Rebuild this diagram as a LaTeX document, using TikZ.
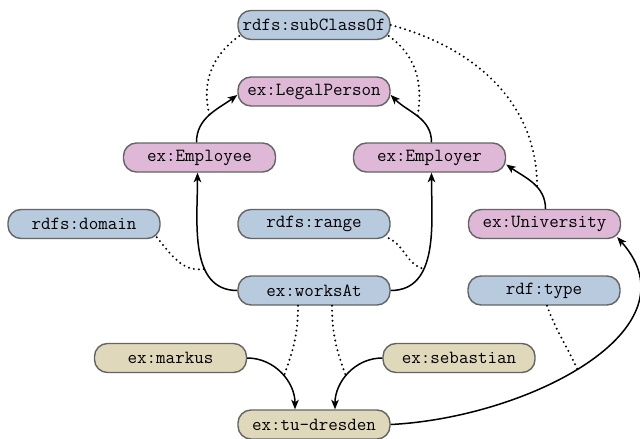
\documentclass[tikz,border=0pt]{standalone}
\usepackage{fontspec}
\usetikzlibrary{arrows.meta}
\definecolor{nblue}{RGB}{184,202,222}
\definecolor{npink}{RGB}{222,184,214}
\definecolor{ntan}{RGB}{224,216,186}
\definecolor{nborder}{RGB}{100,100,100}
\tikzset{
 res/.style={draw=nborder, line width=1.4pt, rounded corners=13pt, minimum width=152pt, minimum height=29pt, inner sep=0pt, font=\ttfamily\fontsize{18.5pt}{20pt}\selectfont},
 cls/.style={res, fill=npink},
 prop/.style={res, fill=nblue},
 inst/.style={res, fill=ntan},
 arr/.style={line width=1.5pt, -{Stealth[length=9.5pt,width=7.5pt,inset=2.5pt]}},
 dots/.style={line width=2.2pt, line cap=round, dash pattern=on 0pt off 5pt},
}
\begin{document}
\begin{tikzpicture}[x=1pt,y=1pt]
\useasboundingbox (0,0) rectangle (640,-439);
% nodes
\node[prop] (sub) at (314,-25) {rdfs:subClassOf};
\node[cls] (lp) at (314,-91.5) {ex:LegalPerson};
\node[cls] (emp) at (199.5,-157.5) {ex:Employee};
\node[cls] (er) at (429.5,-157.5) {ex:Employer};
\node[prop] (dom) at (84,-224) {rdfs:domain};
\node[prop] (rng) at (314,-224) {rdfs:range};
\node[cls] (univ) at (544.5,-224) {ex:University};
\node[prop] (wa) at (314,-290.5) {ex:worksAt};
\node[prop] (type) at (544,-290.5) {rdf:type};
\node[inst] (markus) at (170.5,-358) {ex:markus};
\node[inst] (seb) at (459,-358) {ex:sebastian};
\node[inst] (tu) at (314,-424.5) {ex:tu-dresden};
% arrows
\draw[arr] ([xshift=-3pt]emp.north) to[out=90,in=-144] coordinate[pos=0.5] (c1) ([yshift=-3.5pt]lp.west);
\draw[arr] ([xshift=2pt]er.north) to[out=90,in=-45] coordinate[pos=0.5] (c2) ([yshift=-3.5pt]lp.east);
\draw[arr] ([xshift=1pt]univ.north) to[out=90,in=-35] coordinate[pos=0.4] (c3) ([yshift=-7pt]er.east);
\draw[arr] (wa.west) to[out=180,in=-90] coordinate[pos=0.35] (c4) ([xshift=-2pt]emp.south);
\draw[arr] (wa.east) to[out=0,in=-90] coordinate[pos=0.35] (c5) ([xshift=2pt]er.south);
\draw[arr] (markus.east) to[out=0,in=90] coordinate[pos=0.55] (c6) ([xshift=-19pt]tu.north);
\draw[arr] (seb.west) to[out=180,in=90] coordinate[pos=0.55] (c7) ([xshift=21pt]tu.north);
\draw[arr] (tu.east) .. controls +(138,7) and +(82,-92) .. ([xshift=-4pt,yshift=2pt]univ.south east) coordinate[pos=0.47] (c8);
% dotted
\draw[dots] ([xshift=2pt,yshift=-11pt]sub.west) to[out=215,in=105] (c1);
\draw[dots] ([xshift=-2pt,yshift=-11pt]sub.east) to[out=-35,in=80] (c2);
\draw[dots] (sub.east) to[out=-15,in=90] (c3);
\draw[dots] ([xshift=-4pt,yshift=2pt]dom.south east) to[out=-50,in=190] (c4);
\draw[dots] ([xshift=-2pt,yshift=1pt]rng.south east) to[out=-25,in=165] (c5);
\draw[dots] ([xshift=-16pt]wa.south) to[out=-90,in=70] (c6);
\draw[dots] ([xshift=18pt]wa.south) to[out=-90,in=110] (c7);
\draw[dots] ([xshift=3pt]type.south) to[out=-70,in=115] (c8);
\end{tikzpicture}
\end{document}
